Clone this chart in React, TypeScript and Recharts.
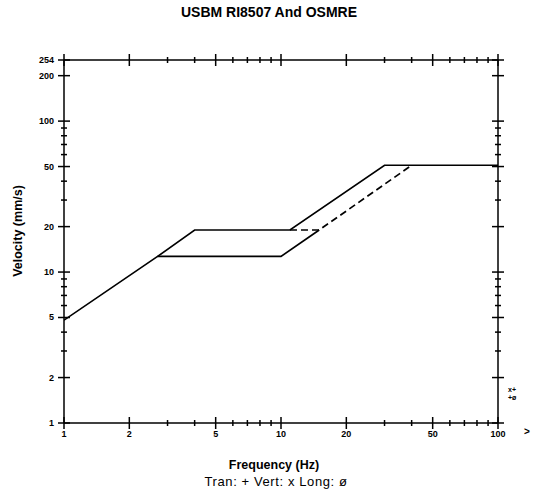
import React from 'react';
import { LineChart, Line, XAxis, YAxis } from 'recharts';

// tick positions on the log axes
const freqTicks = [1, 2, 3, 4, 5, 6, 7, 8, 9, 10, 20, 30, 40, 50, 60, 70, 80, 90, 100];
const velTicks = [1, 2, 3, 4, 5, 6, 7, 8, 9, 10, 20, 30, 40, 50, 60, 70, 80, 90, 100, 200, 254];
const freqLabels = [1, 2, 5, 10, 20, 50, 100];
const velLabels = [1, 2, 5, 10, 20, 50, 100, 200, 254];

// limit curves, Hz vs mm/s
const upperFreq = [1, 2.7, 4, 11, 30, 100];
const upperVel = [4.8, 12.7, 19, 19, 51, 51];
const lowerFreq = [2.7, 10, 15];
const lowerVel = [12.7, 12.7, 19];
const dashFreq = [11, 15, 40];
const dashVel = [19, 19, 51];

const toPoints = (f: number[], v: number[]) => f.map((x, i) => ({ f: x, v: v[i] }));

const upperData = toPoints(upperFreq, upperVel);
const lowerData = toPoints(lowerFreq, lowerVel);
const dashData = toPoints(dashFreq, dashVel);

const font = '"Liberation Sans", Arial, sans-serif';

const BottomTick = (props: any) => {
  const { x, y, payload } = props;
  const major = freqLabels.includes(payload.value);
  const len = major ? 6 : 3;
  return (
    <g>
      <line x1={x} x2={x} y1={y - len} y2={y + len} stroke="#000" strokeWidth={1.5} />
      {major && (
        <text x={x} y={y + 14} textAnchor="middle" fontSize={9} fontWeight="bold" fontFamily={font} fill="#000">
          {payload.value}
        </text>
      )}
    </g>
  );
};

const TopTick = (props: any) => {
  const { x, y, payload } = props;
  const len = freqLabels.includes(payload.value) ? 6 : 3;
  return <line x1={x} x2={x} y1={y - len} y2={y + len} stroke="#000" strokeWidth={1.5} />;
};

const LeftTick = (props: any) => {
  const { x, y, payload } = props;
  const major = velLabels.includes(payload.value);
  const len = major ? 6 : 3;
  return (
    <g>
      <line x1={x - len} x2={x + len} y1={y} y2={y} stroke="#000" strokeWidth={1.5} />
      {major && (
        <text x={x - 10} y={y + 3} textAnchor="end" fontSize={9} fontWeight="bold" fontFamily={font} fill="#000">
          {payload.value}
        </text>
      )}
    </g>
  );
};

const RightTick = (props: any) => {
  const { x, y, payload } = props;
  const len = velLabels.includes(payload.value) ? 6 : 3;
  return <line x1={x - len} x2={x + len} y1={y} y2={y} stroke="#000" strokeWidth={1.5} />;
};

const App = () => {
  return (
    <div style={{ position: 'absolute', left: 0, top: 0, width: 538, height: 494, background: '#fff', fontFamily: font }}>
      <div style={{ position: 'absolute', left: 0, top: 4, width: 538, textAlign: 'center', fontSize: 14, fontWeight: 'bold', lineHeight: '16px' }}>
        USBM RI8507 And OSMRE
      </div>
      <LineChart width={538} height={494} data={upperData} margin={{ top: 50, right: 30, bottom: 51, left: 0 }}>
        <XAxis
          dataKey="f"
          type="number"
          scale="log"
          domain={[1, 100]}
          allowDataOverflow
          ticks={freqTicks}
          interval={0}
          tickSize={0}
          tickMargin={0}
          height={20}
          stroke="#000"
          strokeWidth={1.5}
          tick={<BottomTick />}
        />
        <XAxis
          xAxisId="top"
          orientation="top"
          dataKey="f"
          type="number"
          scale="log"
          domain={[1, 100]}
          allowDataOverflow
          ticks={freqTicks}
          interval={0}
          tickSize={0}
          tickMargin={0}
          height={10}
          stroke="#000"
          strokeWidth={1.5}
          tick={<TopTick />}
        />
        <YAxis
          dataKey="v"
          type="number"
          scale="log"
          domain={[1, 254]}
          allowDataOverflow
          ticks={velTicks}
          interval={0}
          tickSize={0}
          tickMargin={0}
          width={64}
          stroke="#000"
          strokeWidth={1.5}
          tick={<LeftTick />}
        />
        <YAxis
          yAxisId="right"
          orientation="right"
          dataKey="v"
          type="number"
          scale="log"
          domain={[1, 254]}
          allowDataOverflow
          ticks={velTicks}
          interval={0}
          tickSize={0}
          tickMargin={0}
          width={10}
          stroke="#000"
          strokeWidth={1.5}
          tick={<RightTick />}
        />
        <Line data={upperData} dataKey="v" type="linear" stroke="#000" strokeWidth={1.7} dot={false} isAnimationActive={false} />
        <Line data={lowerData} dataKey="v" type="linear" stroke="#000" strokeWidth={1.7} dot={false} isAnimationActive={false} />
        <Line data={dashData} dataKey="v" type="linear" stroke="#000" strokeWidth={1.7} strokeDasharray="7 4" dot={false} isAnimationActive={false} />
        <Line
          data={upperData}
          dataKey="v"
          xAxisId="top"
          yAxisId="right"
          stroke="none"
          dot={false}
          activeDot={false}
          isAnimationActive={false}
        />
      </LineChart>
      <div
        style={{
          position: 'absolute',
          left: 18,
          top: 231,
          transform: 'translate(-50%, -50%) rotate(-90deg)',
          whiteSpace: 'nowrap',
          fontSize: 12.5,
          fontWeight: 'bold',
        }}
      >
        Velocity (mm/s)
      </div>
      <div style={{ position: 'absolute', left: 524, top: 426, fontSize: 10, fontWeight: 'bold' }}>&gt;</div>
      <div style={{ position: 'absolute', left: 508, top: 386, fontSize: 7, fontWeight: 'bold', lineHeight: '8px' }}>
        x+
        <br />
        +ø
      </div>
      <div style={{ position: 'absolute', left: 0, top: 458, width: 548, textAlign: 'center', fontSize: 12.5, fontWeight: 'bold', lineHeight: '15px' }}>
        Frequency (Hz)
      </div>
      <div style={{ position: 'absolute', left: 0, top: 474, width: 552, textAlign: 'center', fontSize: 13, letterSpacing: 0.6, lineHeight: '15px' }}>
        Tran: + Vert: x Long: ø
      </div>
    </div>
  );
};

export default App;
